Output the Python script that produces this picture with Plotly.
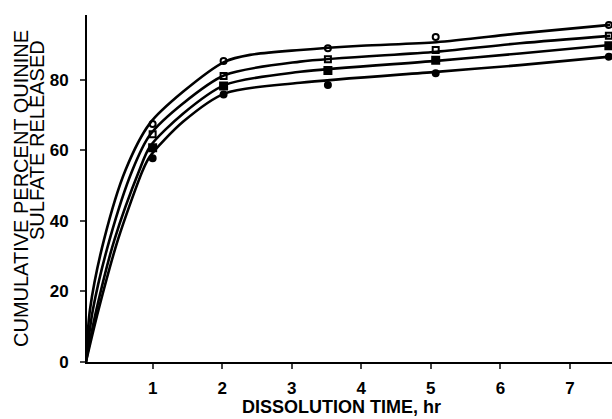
import plotly.graph_objects as go

# Marker data (time in hr, cumulative percent released)
t_pts = [1.0, 2.02, 3.52, 5.07, 7.56]
open_circle = [67.4, 85.3, 88.9, 92.1, 95.5]
open_square = [64.5, 81.0, 85.8, 88.4, 92.4]
filled_square = [60.7, 78.2, 82.6, 85.5, 89.6]
filled_circle = [57.7, 75.8, 78.5, 81.8, 86.5]

# Fitted curves
c1_t = [0.04, 0.1, 0.3, 0.61, 0.96, 1.44, 2.04, 2.4, 3.12, 4.0, 5.08, 6.28, 7.58]
c1_v = [0, 15, 34.6, 54.4, 67.6, 76.6, 85.1, 87.0, 88.4, 89.6, 90.6, 93.1, 95.5]
c2_t = [0.04, 0.14, 0.38, 0.71, 0.96, 1.44, 2.04, 3.12, 5.08, 6.28, 7.58]
c2_v = [0, 14.7, 34.6, 54.4, 64.3, 73.3, 81.3, 85.1, 87.9, 90.3, 92.4]
c3_t = [0.04, 0.19, 0.45, 0.81, 0.96, 1.44, 2.04, 3.12, 5.08, 6.28, 7.58]
c3_v = [0, 14.7, 34.6, 54.4, 61.0, 70.4, 78.5, 82.2, 85.3, 87.4, 89.8]
c4_t = [0.04, 0.22, 0.50, 0.86, 0.96, 1.44, 2.04, 3.12, 5.08, 6.28, 7.58]
c4_v = [0, 14.7, 34.6, 54.4, 58.2, 68.1, 76.1, 79.1, 82.2, 84.1, 86.5]

x_ticks = [1, 2, 3, 4, 5, 6, 7]
y_ticks = [0, 20, 40, 60, 80]

FONT = "Liberation Sans"

W, H = 612, 419
L, R, T, B = 87, 0, 15, 57
pw, ph = W - L - R, H - T - B


def px_to_paper(px, py):
    return (px - L) / pw, (H - B - py) / ph


fig = go.Figure()
for ct, cv in [(c1_t, c1_v), (c2_t, c2_v), (c3_t, c3_v), (c4_t, c4_v)]:
    fig.add_trace(go.Scatter(x=ct, y=cv, mode="lines",
                             line=dict(color="black", width=2.6, shape="spline", smoothing=0.8),
                             showlegend=False, hoverinfo="skip"))

for vals, sym, size in [(open_circle, "circle-open", 6), (open_square, "square-open", 6),
                        (filled_square, "square", 7), (filled_circle, "circle", 6)]:
    fig.add_trace(go.Scatter(x=t_pts, y=vals, mode="markers",
                             marker=dict(symbol=sym, size=size, color="black",
                                         line=dict(color="black", width=2)),
                             showlegend=False, cliponaxis=False))

ann_specs = [
    ("DISSOLUTION TIME, hr", 341, 407, 0, dict(size=18, family=FONT, weight="bold")),
    ("CUMULATIVE PERCENT QUININE", 21, 189, -90, dict(size=20, family=FONT)),
    ("SULFATE RELEASED", 37, 140, -90, dict(size=20, family=FONT)),
]
annotations = []
for text, px, py, ang, f in ann_specs:
    ax, ay = px_to_paper(px, py)
    annotations.append(dict(text=text, x=ax, y=ay, xref="paper", yref="paper",
                            xanchor="center", yanchor="middle", showarrow=False,
                            textangle=ang, font=f))

fig.update_layout(
    width=W, height=H,
    margin=dict(l=L, r=R, t=T, b=B),
    paper_bgcolor="white", plot_bgcolor="white",
    font=dict(family=FONT, color="black"),
    xaxis=dict(range=[0.056, 7.605], tickvals=x_ticks, ticks="outside", ticklen=5, tickwidth=2,
               showline=True, linecolor="black", linewidth=2, showgrid=False, zeroline=False,
               tickfont=dict(size=17, family=FONT, weight="bold"), ticklabelstandoff=5),
    yaxis=dict(range=[0, 98.3], tickvals=y_ticks, ticks="outside", ticklen=5, tickwidth=2,
               showline=True, linecolor="black", linewidth=2, showgrid=False, zeroline=False,
               tickfont=dict(size=17, family=FONT, weight="bold"), ticklabelstandoff=8),
    annotations=annotations,
)

fig.write_html("out.html")
